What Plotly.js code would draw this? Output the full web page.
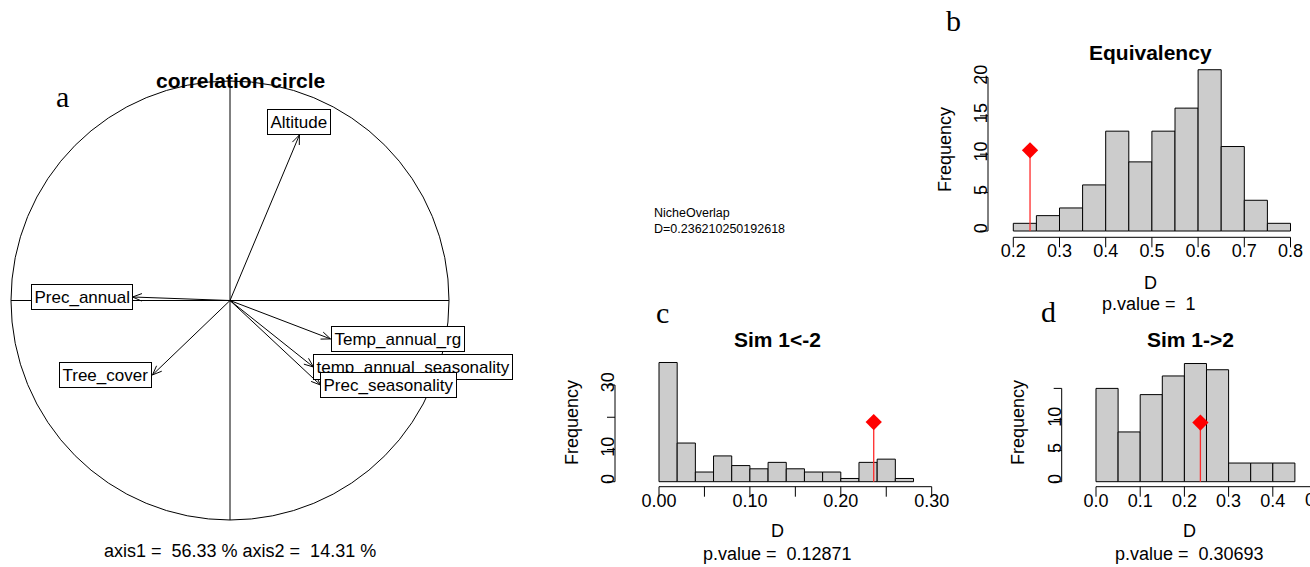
<!DOCTYPE html>
<html><head><meta charset="utf-8">
<script src="https://cdn.plot.ly/plotly-3.0.1.min.js"></script>
<style>html,body{margin:0;padding:0;background:#fff;}#chart{width:1310px;height:567px;}</style>
</head><body><div id="chart"></div>
<script>
// ---------- data ----------
// Panel a: correlation circle (axis1, axis2 loadings)
const varNames = ['Altitude', 'Prec_annual', 'Temp_annual_rg', 'temp_annual_seasonality', 'Prec_seasonality', 'Tree_cover'];
const varAxis1 = [0.317, -0.445, 0.459, 0.381, 0.413, -0.354];
const varAxis2 = [0.754, 0.016, -0.175, -0.303, -0.385, -0.339];
const axisPct = ['56.33', '14.31'];

// Observed niche overlap
const obsD = 0.236210250192618;

// Panel b: Equivalency histogram
const eqBreaks = [0.20, 0.25, 0.30, 0.35, 0.40, 0.45, 0.50, 0.55, 0.60, 0.65, 0.70, 0.75, 0.80];
const eqCounts = [1, 2, 3, 6, 13, 9, 13, 16, 21, 11, 4, 1];
const eqXTicks = [0.2, 0.3, 0.4, 0.5, 0.6, 0.7, 0.8];
const eqXLabels = ['0.2', '0.3', '0.4', '0.5', '0.6', '0.7', '0.8'];
const eqYTicks = [0, 5, 10, 15, 20];
const eqYLabels = ['0', '5', '10', '15', '20'];
const eqP = '1';

// Panel c: Sim 1<-2
const s12Breaks = [0.00, 0.02, 0.04, 0.06, 0.08, 0.10, 0.12, 0.14, 0.16, 0.18, 0.20, 0.22, 0.24, 0.26, 0.28];
const s12Counts = [37, 12, 3, 8, 5, 4, 6, 4, 3, 3, 1, 6, 7, 1];
const s12XTicks = [0.00, 0.05, 0.10, 0.15, 0.20, 0.25, 0.30];
const s12XLabels = ['0.00', '', '0.10', '', '0.20', '', '0.30'];
const s12YTicks = [0, 10, 20, 30];
const s12YLabels = ['0', '10', '', '30'];
const s12P = '0.12871';

// Panel d: Sim 1->2
const s21Breaks = [0.00, 0.05, 0.10, 0.15, 0.20, 0.25, 0.30, 0.35, 0.40, 0.45];
const s21Counts = [15, 8, 14, 17, 19, 18, 3, 3, 3];
const s21XTicks = [0.0, 0.1, 0.2, 0.3, 0.4, 0.5];
const s21XLabels = ['0.0', '0.1', '0.2', '0.3', '0.4', '0.5'];
const s21YTicks = [0, 5, 10, 15];
const s21YLabels = ['0', '5', '10', ''];
const s21P = '0.30693';

// ---------- helpers ----------
const W = 1310, H = 567;
const SANS = 'Liberation Sans, Arial, sans-serif';
const SERIF = 'Liberation Serif, Times New Roman, serif';
const px = x => x / W;
const py = y => 1 - y / H;

function xAxisPx(d0, d1, vA, pA, k, extra) {
  return Object.assign({
    domain: [px(d0), px(d1)],
    range: [vA + (d0 - pA) / k, vA + (d1 - pA) / k],
    showgrid: false, zeroline: false, showline: false, fixedrange: true
  }, extra || {});
}
function yAxisPx(dBottom, dTop, vA, pA, k, extra) {
  return Object.assign({
    domain: [py(dBottom), py(dTop)],
    range: [vA + (dBottom - pA) / k, vA + (dTop - pA) / k],
    showgrid: false, zeroline: false, showline: false, fixedrange: true
  }, extra || {});
}
function tickStyle(vals, labels, isY) {
  return {
    tickmode: 'array', tickvals: vals, ticktext: labels,
    ticks: '',
    tickfont: {family: SANS, size: 18, color: '#000'},
    tickangle: isY ? -90 : 0,
    ticklabelstandoff: isY ? -4 : 1
  };
}

const traces = [];
const shapes = [];
const annotations = [];

function ann(text, x, y, o) {
  annotations.push(Object.assign({
    text: text, x: px(x), y: py(y), xref: 'paper', yref: 'paper',
    showarrow: false, xanchor: 'center', yanchor: 'middle',
    font: {family: SANS, size: 18, color: '#000'}
  }, o || {}));
}

// ---------- panel a ----------
const CX = 230, CY = 300.5, RX = 219, RY = 219.5, EXT = 1.05;
const axA = xAxisPx(CX - RX * EXT, CX + RX * EXT, 0, CX, RX, {visible: false, anchor: 'y'});
const ayA = yAxisPx(CY + RY * EXT, CY - RY * EXT, 0, CY, -RY, {visible: false, anchor: 'x'});

shapes.push({type: 'circle', xref: 'x', yref: 'y', x0: -1, x1: 1, y0: -1, y1: 1, line: {color: '#000', width: 1}});
shapes.push({type: 'line', xref: 'x', yref: 'y', x0: -1, x1: 1, y0: 0, y1: 0, line: {color: '#000', width: 1}});
shapes.push({type: 'line', xref: 'x', yref: 'y', x0: 0, x1: 0, y0: -1, y1: 1, line: {color: '#000', width: 1}});

const arrX = [], arrY = [];
const HEAD = 10, HANG = 22 * Math.PI / 180;
varNames.forEach((nm, i) => {
  const x = varAxis1[i], y = varAxis2[i];
  arrX.push(0, x, null); arrY.push(0, y, null);
  const th = Math.atan2(y * RY, x * RX);
  [th + HANG, th - HANG].forEach(a => {
    arrX.push(x - HEAD * Math.cos(a) / RX, x, null);
    arrY.push(y - HEAD * Math.sin(a) / RY, y, null);
  });
  let xa = 'center', ya = 'middle';
  if (Math.abs(y) > 1.5 * Math.abs(x)) { ya = y > 0 ? 'bottom' : 'top'; }
  else { xa = x > 0 ? 'left' : 'right'; }
  annotations.push({
    text: nm, x: x, y: y, xref: 'x', yref: 'y', showarrow: false,
    xanchor: xa, yanchor: ya, bgcolor: '#fff', bordercolor: '#000', borderwidth: 1, borderpad: 2.5,
    font: {family: SANS, size: 17, color: '#000'}
  });
});
traces.push({type: 'scatter', mode: 'lines', x: arrX, y: arrY, xaxis: 'x', yaxis: 'y',
  line: {color: '#000', width: 1}, hoverinfo: 'skip', showlegend: false});

ann('<b>correlation circle</b>', 240, 81, {font: {family: SANS, size: 21, color: '#000'}});
ann('a', 62, 97, {font: {family: SERIF, size: 30, color: '#000'}});
ann('axis1 =  ' + axisPct[0] + ' % axis2 =  ' + axisPct[1] + ' %', 240, 551);

ann('NicheOverlap<br>D=' + obsD, 652, 221, {xanchor: 'left', align: 'left', font: {family: SANS, size: 12.5, color: '#000'}});

// ---------- histograms ----------
function addHist(n, breaks, counts, xTicks, yTicks) {
  const centers = [], widths = [];
  for (let i = 0; i < counts.length; i++) {
    centers.push((breaks[i] + breaks[i + 1]) / 2);
    widths.push(breaks[i + 1] - breaks[i]);
  }
  const xa = 'x' + n, ya = 'y' + n;
  traces.push({type: 'bar', x: centers, y: counts, width: widths, xaxis: xa, yaxis: ya,
    marker: {color: '#cccccc', line: {color: '#000', width: 1}}, hoverinfo: 'skip', showlegend: false});
  const half = Math.max.apply(null, counts) / 2;
  traces.push({type: 'scatter', mode: 'lines', x: [obsD, obsD], y: [0, half], xaxis: xa, yaxis: ya,
    line: {color: '#ff2a2a', width: 1.3}, hoverinfo: 'skip', showlegend: false});
  traces.push({type: 'scatter', mode: 'markers', x: [obsD], y: [half], xaxis: xa, yaxis: ya,
    marker: {symbol: 'diamond', size: 12.5, color: '#ff0000'}, hoverinfo: 'skip', showlegend: false, cliponaxis: false});
  // R-style axis lines spanning first to last tick
  shapes.push({type: 'line', xref: xa, yref: ya + ' domain', x0: xTicks[0], x1: xTicks[xTicks.length - 1], y0: 0, y1: 0, line: {color: '#000', width: 1}});
  shapes.push({type: 'line', xref: xa + ' domain', yref: ya, x0: 0, x1: 0, y0: yTicks[0], y1: yTicks[yTicks.length - 1], line: {color: '#000', width: 1}});
  // R-style tick marks (overlapping the labels)
  xTicks.forEach(v => shapes.push({type: 'line', xref: xa, yref: ya + ' domain', ysizemode: 'pixel', yanchor: 0,
    x0: v, x1: v, y0: 0, y1: -10, line: {color: '#000', width: 1}}));
  yTicks.forEach(v => shapes.push({type: 'line', yref: ya, xref: xa + ' domain', xsizemode: 'pixel', xanchor: 0,
    y0: v, y1: v, x0: 0, x1: -8, line: {color: '#000', width: 1}}));
}

addHist(2, eqBreaks, eqCounts, eqXTicks, eqYTicks);
addHist(3, s12Breaks, s12Counts, s12XTicks, s12YTicks);
addHist(4, s21Breaks, s21Counts, s21XTicks, s21YTicks);

const xaxis2 = xAxisPx(988, 1300, 0.2, 1013.3, 462, Object.assign({anchor: 'y2'}, tickStyle(eqXTicks, eqXLabels, false)));
const yaxis2 = yAxisPx(237.3, 62, 0, 231, -7.68, Object.assign({anchor: 'x2'}, tickStyle(eqYTicks, eqYLabels, true)));
const xaxis3 = xAxisPx(615, 952, 0, 659, 909, Object.assign({anchor: 'y3'}, tickStyle(s12XTicks, s12XLabels, false)));
const yaxis3 = yAxisPx(486.7, 345, 0, 481.7, -3.222, Object.assign({anchor: 'x3'}, tickStyle(s12YTicks, s12YLabels, true)));
const D4 = {x0: 0, p0: 1096, k: 442};
const xaxis4 = xAxisPx(1061.7, 1310, D4.x0, D4.p0, D4.k, Object.assign({anchor: 'y4'}, tickStyle(s21XTicks, s21XLabels, false)));
const yaxis4 = yAxisPx(486.7, 345, 0, 481.7, -6.22, Object.assign({anchor: 'x4'}, tickStyle(s21YTicks, s21YLabels, true)));

// panel b texts
ann('b', 953, 20, {font: {family: SERIF, size: 30, color: '#000'}});
ann('<b>Equivalency</b>', 1150, 53, {font: {family: SANS, size: 21, color: '#000'}});
ann('Frequency', 945, 150, {textangle: -90});
ann('D', 1150, 283);
ann('p.value =  ' + eqP, 1149, 304);
// panel c texts
ann('c', 662, 312, {font: {family: SERIF, size: 30, color: '#000'}});
ann('<b>Sim 1&lt;-2</b>', 777, 339, {font: {family: SANS, size: 21, color: '#000'}});
ann('Frequency', 572, 423, {textangle: -90});
ann('D', 777, 531);
ann('p.value =  ' + s12P, 777, 554);
// panel d texts
ann('d', 1048, 311, {font: {family: SERIF, size: 30, color: '#000'}});
ann('<b>Sim 1-&gt;2</b>', 1190, 339, {font: {family: SANS, size: 21, color: '#000'}});
ann('Frequency', 1018, 423, {textangle: -90});
ann('D', 1189, 531);
ann('p.value =  ' + s21P, 1189, 554);
// last tick label of panel d, cut by the right edge of the figure (as in the original)
const lastV = s21XTicks[s21XTicks.length - 1];
ann(s21XLabels[s21XLabels.length - 1], D4.p0 + (lastV - D4.x0) * D4.k, 500);

const layout = {
  width: W, height: H, margin: {l: 0, r: 0, t: 0, b: 0, pad: 0},
  paper_bgcolor: '#fff', plot_bgcolor: 'rgba(0,0,0,0)', showlegend: false,
  font: {family: SANS, color: '#000'},
  xaxis: axA, yaxis: ayA,
  xaxis2, yaxis2, xaxis3, yaxis3, xaxis4, yaxis4,
  shapes, annotations
};
Plotly.newPlot('chart', traces, layout, {displayModeBar: false, staticPlot: true});
</script></body></html>
